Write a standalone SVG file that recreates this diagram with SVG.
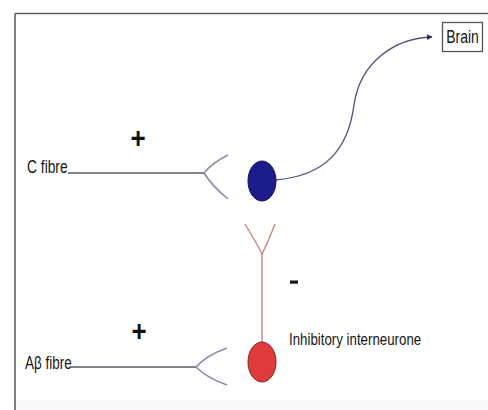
<svg xmlns="http://www.w3.org/2000/svg" width="488" height="410" viewBox="0 0 488 410">
<style>
.lbl{font-family:"Liberation Sans",Arial,sans-serif;fill:#141414}
.sign{font-family:"Liberation Sans",Arial,sans-serif;font-weight:bold;fill:#111;text-anchor:middle}
.fibre{fill:none;stroke:#5a5a66;stroke-width:1.3}
.fork{fill:none;stroke:#8a8ca8;stroke-width:1.6}
.redl{fill:none;stroke:#c98383;stroke-width:1.4}
</style>
<defs>
<marker id="arr" viewBox="0 0 10 10" refX="9" refY="5" markerWidth="6" markerHeight="6" orient="auto" markerUnits="userSpaceOnUse">
<path d="M0,0 L10,5 L0,10 z" fill="#2a2a70"/>
</marker>
</defs>
<rect x="0" y="0" width="488" height="410" fill="#ffffff"/>
<rect x="15" y="400" width="473" height="10" fill="#f8f8f8"/>
<g id="frame" fill="none" stroke="#5e5e5e" stroke-width="1.6">
<line x1="15" y1="13.5" x2="488" y2="13.5"/>
<line x1="15" y1="13.5" x2="15" y2="410"/>
</g>
<g id="connectors">
<path d="M275,180 C325,176 348,150 354,105 C360,62 395,38 432,37" fill="none" stroke="#55557c" stroke-width="1.4" marker-end="url(#arr)"/>
<path class="redl" d="M262,342 L262,254"/>
</g>
<g id="c-fibre">
<text class="lbl" font-size="13.8" transform="translate(27,173) scale(1,1.3)">C fibre</text>
<line class="fibre" x1="68" y1="173" x2="204" y2="173"/>
<path class="fork" d="M228,155 Q212,163 204,173 Q212,186 228,199"/>
</g>
<g id="plus-c"><text class="sign" font-size="26" transform="translate(138,148) scale(1,1.1)">+</text></g>
<g id="neuron-blue">
<ellipse cx="262" cy="181" rx="14" ry="20" fill="#1c1c8e" stroke="#101060" stroke-width="1"/>
</g>
<g id="brain">
<rect x="442.5" y="22.5" width="40" height="29" fill="#ffffff" stroke="#555" stroke-width="1.3"/>
<text class="lbl" font-size="14" text-anchor="middle" transform="translate(462.5,43) scale(1,1.25)">Brain</text>
</g>
<g id="interneuron">
<path class="redl" d="M245,224 Q256,242 262,254 Q268,242 275,224"/>
<ellipse cx="262" cy="362" rx="14" ry="20" fill="#e13a3a" stroke="#8a2424" stroke-width="1"/>
<text class="lbl" font-size="13.3" transform="translate(289,345) scale(1,1.3)">Inhibitory interneurone</text>
</g>
<g id="minus"><rect x="290" y="280.5" width="8" height="3.2" fill="#111"/></g>
<g id="abeta-fibre">
<text class="lbl" font-size="13.5" transform="translate(25,369) scale(1,1.3)">Aβ fibre</text>
<line class="fibre" x1="70" y1="367" x2="196" y2="367"/>
<path class="fork" d="M227,348 Q207,355 196,367 Q207,378 227,385"/>
</g>
<g id="plus-a"><text class="sign" font-size="26" transform="translate(139,341) scale(1,1.1)">+</text></g>
</svg>
